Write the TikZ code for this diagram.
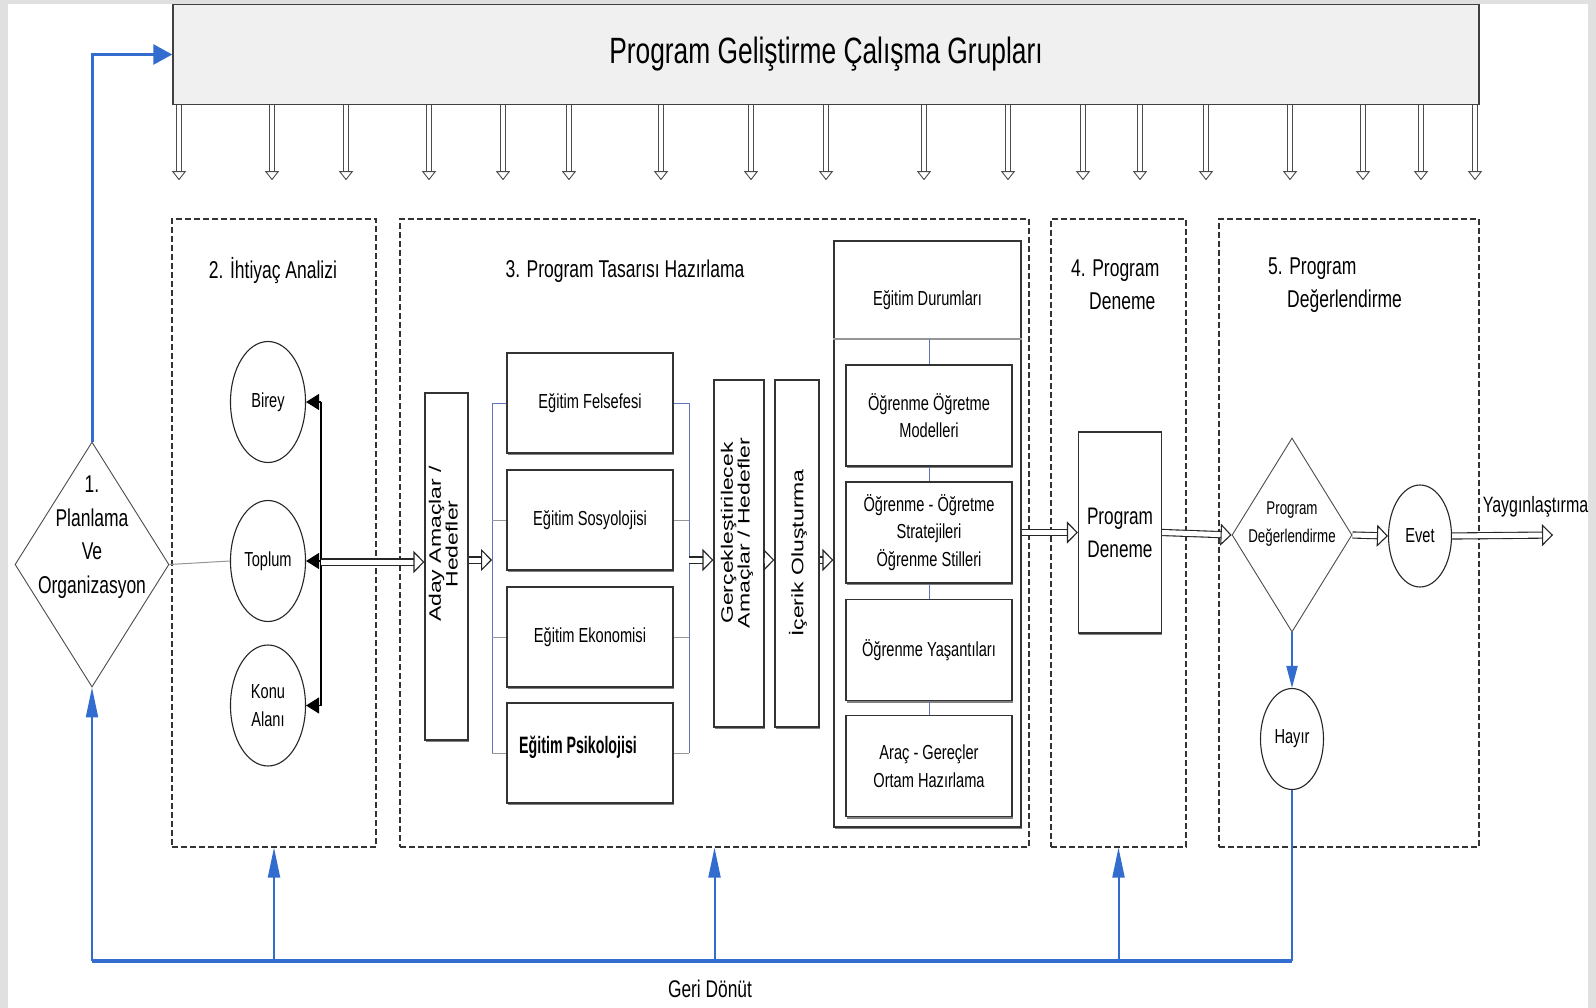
\documentclass[tikz,border=0pt]{standalone}
\usepackage{fontspec}
\setmainfont{Liberation Sans}
\newfontfamily\narrowfont[FakeStretch=0.72]{Liberation Sans}
\newfontfamily\narrowboldfont[FakeStretch=0.6]{Liberation Sans Bold}
\usetikzlibrary{arrows.meta, shapes.geometric, positioning, calc, shadows}
\definecolor{framegrey}{RGB}{224,224,224}
\definecolor{barfill}{RGB}{240,240,240}
\definecolor{fbblue}{RGB}{50,108,206}
\definecolor{linkblue}{RGB}{96,116,192}
\definecolor{linkgrey}{RGB}{150,150,150}
\newcommand{\fsz}[2]{\fontsize{#1}{#2}\selectfont}

\tikzset{
  txt/.style={inner sep=0pt, align=center, font=\narrowfont\fsz{20.3}{27.5}},
  headtxt/.style={txt, font=\narrowfont\fsz{24.3}{33}},
  vtxt/.style={inner sep=0pt, rotate=90, font=\rmfamily\fsz{23}{22}},
  phase/.style={draw=black!80, line width=1.2pt, dash pattern=on 6pt off 3pt, minimum height=628pt, inner sep=0pt},
  card/.style={draw=black!80, line width=1.1pt, fill=white, inner sep=0pt, align=center,
    font=\narrowfont\fsz{20.3}{27.5},
    drop shadow={shadow xshift=0.5pt, shadow yshift=-2pt, fill=black!70, opacity=0.7}},
  ring/.style={draw=black!85, line width=1.1pt, ellipse, fill=white, inner sep=0pt, align=center,
    font=\narrowfont\fsz{20.3}{28.5}},
  choice/.style={draw=black!70, line width=0.9pt, diamond, fill=white, inner sep=0pt},
  hollow/.style={draw=black!85, double=white, double distance=5pt, line width=1.1pt,
    -{Triangle[open, length=11pt, width=22pt]}},
  hollowdown/.style={draw=black!70, double=white, double distance=3.5pt, line width=0.9pt,
    -{Triangle[open, length=9pt, width=14pt]}},
  pointer/.style={draw=black, line width=1.1pt, -{Triangle[length=13pt, width=16pt]}},
  fb/.style={draw=fbblue, line width=2pt},
  fbtip/.style={fb, -{Triangle[length=30pt, width=12pt]}}
}

\begin{document}
\begin{tikzpicture}[x=1pt, y=-1pt]
    \useasboundingbox (0,0) rectangle (1596,1008);
    \fill[framegrey] (0,0) rectangle (1596,1008);
    \fill[white] (8,4) rectangle (1588,1008);

    \node[draw=black!75, line width=1.5pt, fill=barfill, minimum width=1306pt, minimum height=100pt,
        inner sep=0pt, font=\narrowfont\fsz{36.6}{40}] (bar) at (826,54.5) {Program Geliştirme Çalışma Grupları};
    \foreach \x in {179,272,346,429,503,569,661,751,826,924,1008,1083,1140,1206,1290,1363,1421,1475}{
        \draw[hollowdown] (bar.south -| \x,0) -- ++(0,75);
    }

    \node[phase, minimum width=204pt] (phase2) at (274,533) {};
    \node[phase, minimum width=629pt] (phase3) at (714.5,533) {};
    \node[phase, minimum width=135pt] (phase4) at (1118.5,533) {};
    \node[phase, minimum width=260pt] (phase5) at (1349,533) {};
    \node[headtxt] (phase2title) at (273,271) {2. İhtiyaç Analizi};
    \node[headtxt] (phase3title) at (625,271) {3. Program Tasarısı Hazırlama};
    \node[headtxt, align=left, anchor=west] (phase4title) at (1071,285) {4. Program\\\hspace*{18pt}Deneme};
    \node[headtxt, align=left, anchor=west] (phase5title) at (1268,285) {5. Program\\\hspace*{19pt}Değerlendirme};

    \node[choice, minimum width=154pt, minimum height=245pt] (planlama) at (92,564.5) {};
    \node[headtxt, font=\narrowfont\fsz{24.3}{33.5}] (planlamatext) at (92,537) {1.\\Planlama\\Ve\\Organizasyon};

    \node[ring, minimum width=75pt, minimum height=121pt] (birey) at (268,402) {Birey};
    \node[ring, minimum width=75pt, minimum height=121pt] (toplum) at (268,561) {Toplum};
    \node[ring, minimum width=75pt, minimum height=121pt] (konu) at (268,705.5) {Konu\\Alanı};
    \coordinate (ringbrace) at (321,562);
    \draw[line width=1.1pt] (ringbrace |- birey) -- (ringbrace |- konu);
    \foreach \name in {birey,toplum,konu}{
        \draw[pointer] (ringbrace |- \name) -- (\name.east);
    }
    \draw[linkgrey, line width=1pt] (planlama.east) -- (toplum.west);

    \node[card, minimum width=43pt, minimum height=347pt] (aday) at (446.5,566.5) {};
    \node[vtxt] (adaytext) at (445.5,544) {\scalebox{1}[0.72]{\begin{tabular}{@{}c@{}}Aday Amaçlar /\\Hedefler\end{tabular}}};
    \draw[hollow] (ringbrace) -- (aday.west |- ringbrace);

    \foreach \y/\name/\label in {403/felsefe/Eğitim Felsefesi, 520/sosyoloji/Eğitim Sosyolojisi, 637/ekonomi/Eğitim Ekonomisi, 753/psikoloji/}{
        \node[card, minimum width=166pt, minimum height=100pt] (\name) at (590,\y) {\label};
    }
    \node[anchor=west, inner sep=0pt, font=\narrowboldfont\fsz{23.7}{26}] (psikolojitext) at (519,747) {Eğitim Psikolojisi};
    \coordinate (lbrack) at (492,560);
    \coordinate (rbrack) at (689,560);
    \draw[linkblue, line width=0.8pt] (lbrack |- felsefe) -- (lbrack |- psikoloji);
    \draw[linkblue, line width=0.8pt] (rbrack |- felsefe) -- (rbrack |- psikoloji);
    \draw[linkblue, line width=0.8pt] (lbrack |- felsefe) -- (felsefe.west);
    \draw[linkblue, line width=0.8pt] (felsefe.east) -- (rbrack |- felsefe);
    \foreach \name in {sosyoloji,ekonomi,psikoloji}{
        \draw[linkgrey, line width=1pt] (lbrack |- \name) -- (\name.west);
        \draw[linkgrey, line width=1pt] (\name.east) -- (rbrack |- \name);
    }
    \draw[hollow] (aday.east |- lbrack) -- (lbrack);

    \node[card, minimum width=50pt, minimum height=347pt] (gercek) at (739,553.5) {};
    \node[vtxt] (gercektext) at (737.5,533) {\scalebox{1}[0.72]{\begin{tabular}{@{}c@{}}Gerçekleştirilecek\\Amaçlar / Hedefler\end{tabular}}};
    \node[card, minimum width=44pt, minimum height=347pt] (icerik) at (797,553.5) {};
    \node[vtxt] (iceriktext) at (798,553) {\scalebox{1}[0.72]{İçerik Oluşturma}};
    \draw[hollow] (rbrack) -- (gercek.west |- rbrack);
    \draw[hollow] (gercek.east |- rbrack) -- (icerik.west |- rbrack);

    \node[card, minimum width=187pt, minimum height=586pt] (durum) at (927.5,534) {};
    \node[txt] (durumtitle) at (927.5,300) {Eğitim Durumları};
    \coordinate (durumsplit) at (929,339);
    \draw[linkgrey, line width=1.2pt] (durum.west |- durumsplit) -- (durum.east |- durumsplit);
    \foreach \y/\name/\label in {415.5/modeller/Öğrenme Öğretme\\Modelleri, 532.5/strateji/Öğrenme - Öğretme\\Stratejileri\\Öğrenme Stilleri, 650/yasanti/Öğrenme Yaşantıları, 766/arac/Araç - Gereçler\\Ortam Hazırlama}{
        \node[card, minimum width=166pt, minimum height=101pt] (\name) at (929,\y) {\label};
    }
    \draw[linkblue, line width=0.8pt] (durumsplit) -- (modeller.north);
    \draw[linkblue, line width=0.8pt] (modeller.south) -- (strateji.north);
    \draw[linkblue, line width=0.8pt] (strateji.south) -- (yasanti.north);
    \draw[linkblue, line width=0.8pt] (yasanti.south) -- (arac.north);
    \draw[hollow] (icerik.east |- rbrack) -- (durum.west |- rbrack);

    \node[card, minimum width=83pt, minimum height=201pt, font=\narrowfont\fsz{23.9}{33}] (deneme) at (1120,532.5) {Program\\Deneme};
    \draw[hollow] (durum.east |- deneme) -- (deneme.west);

    \node[choice, minimum width=120pt, minimum height=194pt] (karar) at (1292,535) {};
    \node[txt, font=\narrowfont\fsz{18.5}{28}] (karartext) at (1292,524) {Program\\Değerlendirme};
    \node[ring, minimum width=63pt, minimum height=102pt] (evet) at (1420,536) {Evet};
    \node[ring, minimum width=63pt, minimum height=101pt] (hayir) at (1292,739) {Hayır};
    \coordinate (yayg) at (1553,535);
    \node[txt, font=\narrowfont\fsz{22.2}{26}] (yaygtext) at (1535.5,507) {Yaygınlaştırma};
    \draw[hollow] (deneme.east) -- (karar.west);
    \draw[hollow] (karar.east) -- (evet.west);
    \draw[hollow] (evet.east) -- (yayg);
    \draw[fb, -{Triangle[length=22pt, width=11pt]}] (karar.south) -- (hayir.north);

    \coordinate (fbright) at (1292,961);
    \coordinate (fbleft) at (92,961);
    \draw[fb] (hayir.south) -- (fbright);
    \draw[fb, line width=3.5pt] (fbright) -- (fbleft);
    \draw[fbtip] (fbleft) -- (planlama.south);
    \foreach \name in {phase2,phase3,phase4}{
        \draw[fbtip] (fbleft -| \name.south) -- (\name.south);
    }
    \draw[fb, line width=3pt, -{Triangle[length=19pt, width=20pt]}] (planlama.north) |- (bar.west);
    \node[txt, font=\narrowfont\fsz{24.1}{28}] (geridonut) at (710,989) {Geri Dönüt};
\end{tikzpicture}
\end{document}
